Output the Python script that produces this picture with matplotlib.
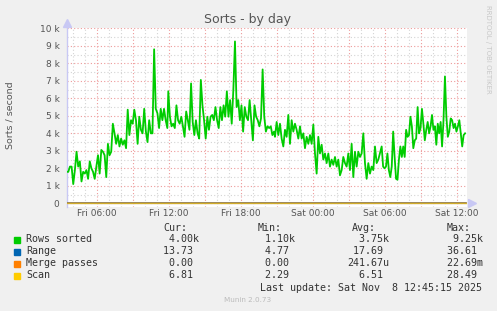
import numpy as np
import matplotlib
matplotlib.use("Agg")
import matplotlib.pyplot as plt
from matplotlib.patches import Rectangle
from matplotlib.ticker import MultipleLocator, FuncFormatter

W, H = 497, 311

# Rows sorted (thousands per second) in four stretches
rows_seg1 = [1.8, 1.8, 2.1, 2.1, 1.1, 1.9, 2.95, 2.1, 2.4, 1.25, 1.8, 1.7, 1.9, 1.4, 2.4, 2.0,
             1.8, 1.4, 2.1, 2.75, 1.7, 3.05, 2.95, 2.75, 1.5, 3.4, 2.75, 2.95, 4.55, 4.0, 3.4,
             3.9, 3.25, 3.7, 3.35, 3.6, 3.15, 5.35, 3.9, 4.75, 4.55, 5.35, 4.75, 3.4, 4.95,
             4.2, 4.0, 5.4, 4.1, 3.5, 4.75, 4.0, 4.0, 8.8, 5.4, 5.15, 4.3, 5.4, 4.75, 5.4,
             4.75, 4.3]
rows_seg2 = [6.4, 4.95, 4.4, 4.55, 4.3, 5.6, 4.75, 4.55, 4.95, 4.4, 3.8, 5.25, 4.75, 4.2,
             6.85, 4.65, 3.9, 4.75, 4.0, 3.7, 7.05, 5.6, 4.75, 3.7, 4.95, 4.2, 4.95, 5.05,
             4.75, 5.5, 4.75, 4.3, 5.5, 4.75, 5.6, 4.95, 6.4, 4.95, 5.9, 4.55, 6.5, 9.25,
             5.5, 5.9, 4.75, 5.6, 4.1, 5.5, 4.95, 4.75, 5.9, 4.75, 3.6, 5.6, 4.95, 4.75, 4.4,
             4.85, 7.65, 4.95, 4.1, 4.4, 4.3, 4.4, 3.9, 4.1]
rows_seg3 = [3.8, 4.65, 3.9, 4.55, 3.7, 3.25, 4.2, 3.8, 5.05, 3.4, 4.75, 4.1, 4.55, 4.2, 3.7,
             4.4, 3.7, 4.0, 3.15, 3.8, 3.4, 3.9, 3.4, 4.5, 2.85, 1.7, 3.8, 2.85, 3.35, 2.5,
             2.85, 2.3, 2.85, 2.1, 2.5, 2.2, 2.65, 2.1, 2.5, 1.6, 1.9, 2.65, 2.3, 2.1, 2.85,
             1.9, 3.4, 1.5, 2.95, 2.1, 2.95, 2.65, 2.85, 4.0, 2.3, 1.4, 2.3, 1.7, 2.1, 1.9,
             3.25, 2.3, 2.5]
rows_seg4 = [3.25, 2.1, 2.0, 2.1, 2.85, 1.9, 1.5, 2.1, 4.1, 2.65, 1.4, 1.35, 2.5, 3.25, 2.65,
             3.25, 2.65, 4.2, 3.8, 3.9, 4.95, 4.4, 3.15, 3.6, 3.7, 5.5, 4.0, 4.3, 5.4, 4.55,
             3.6, 4.2, 4.65, 4.0, 4.4, 5.05, 4.2, 4.4, 3.35, 4.55, 4.0, 4.65, 3.25, 4.75,
             7.25, 4.95, 3.8, 4.1, 4.85, 4.75, 4.3, 4.55, 4.1, 4.4, 4.75, 4.0, 3.25, 3.9, 4.0]
# hours since Fri 00:00 covered by each stretch
seg_hours = [(3.47, 11.86), (11.94, 20.75), (20.83, 29.44), (29.72, 36.67)]

# small series, roughly hourly
small_hours = [3.5, 36.75]
range_vals = [8, 7, 9, 10, 12, 30, 14, 28, 31, 27, 15, 29, 33, 16, 18, 17, 36.6, 20, 19,
              17, 15, 12, 10, 9, 8, 6, 5, 4.8, 30, 18, 15, 16, 14, 13.7]
merge_vals = [0.0] * 34
scan_vals = [5, 4, 6, 7, 6, 8, 7, 9, 8, 7, 6, 8, 28.5, 7, 6, 8, 7, 6, 5, 6, 5, 4, 3,
             2.3, 3, 4, 5, 6, 7, 6, 8, 7, 6, 6.8]

x_ticks = [6, 12, 18, 24, 30, 36]
x_labels = ["Fri 06:00", "Fri 12:00", "Fri 18:00", "Sat 00:00", "Sat 06:00", "Sat 12:00"]

legend_names = ["Rows sorted", "Range", "Merge passes", "Scan"]
legend_colors = ["#00CC00", "#0066B3", "#FF8000", "#FFCC00"]
legend_cur = ["  4.00k", " 13.73", "  0.00", "  6.81"]
legend_min = ["  1.10k", "  4.77", "  0.00", "  2.29"]
legend_avg = ["  3.75k", " 17.69", "241.67u", "  6.51"]
legend_max = ["  9.25k", " 36.61", " 22.69m", " 28.49"]


def fx(x):
    return x / W


def fy(y):
    return 1 - y / H


fig = plt.figure(figsize=(W / 100, H / 100), dpi=100, facecolor='#F0F0F0')
ax = fig.add_axes([fx(67), fy(206.5), 400 / W, 178.2 / H])
ax.set_facecolor('white')
ax.set_xlim(3.5, 36.83)
ax.set_ylim(-180, 10000)

# grid
ax.xaxis.set_major_locator(MultipleLocator(3))
ax.xaxis.set_minor_locator(MultipleLocator(1))
ax.yaxis.set_major_locator(MultipleLocator(1000))
ax.yaxis.set_minor_locator(MultipleLocator(500))
ax.grid(which='minor', color='#D4D4D4', linestyle=(0, (1, 2)), linewidth=0.8)
ax.grid(which='major', color='#EE9A9A', linestyle=(0, (1, 2)), linewidth=0.8)
ax.set_axisbelow(True)

ax.xaxis.set_major_formatter(FuncFormatter(
    lambda v, p: x_labels[x_ticks.index(int(round(v)))] if int(round(v)) in x_ticks else ''))
ax.yaxis.set_major_formatter(FuncFormatter(
    lambda v, p: '0' if v == 0 else '%d k' % int(v / 1000)))
ax.tick_params(which='both', length=0)
ax.tick_params(axis='x', pad=1.5, labelsize=6.5, labelcolor='#555555')
ax.tick_params(axis='y', pad=5.4, labelsize=6.5, labelcolor='#555555')

for s in ['top', 'right', 'bottom']:
    ax.spines[s].set_visible(False)
ax.spines['left'].set_color('#C8C8F4')
ax.spines['left'].set_linewidth(1.0)
ax.axhline(0, color='#C8C8F4', linewidth=1.0, zorder=2)
ax.plot([0], [1.03], marker='^', color='#C8C8F4', markersize=6, transform=ax.transAxes, clip_on=False)
ax.plot([1.012], [180 / 10180], marker='>', color='#C8C8F4', markersize=6, transform=ax.transAxes, clip_on=False)

# series
rows_t = np.concatenate([np.linspace(h0, h1, len(s)) for s, (h0, h1) in
                         zip([rows_seg1, rows_seg2, rows_seg3, rows_seg4], seg_hours)])
rows_v = np.concatenate([rows_seg1, rows_seg2, rows_seg3, rows_seg4]) * 1000
ax.plot(rows_t, rows_v, color=legend_colors[0], linewidth=1.3, zorder=3)

small_t = np.linspace(small_hours[0], small_hours[1], len(range_vals))
ax.step(small_t, range_vals, where='post', color=legend_colors[1], linewidth=1.1, zorder=3)
ax.step(small_t, merge_vals, where='post', color=legend_colors[2], linewidth=1.2, alpha=0.55, zorder=3)
ax.step(small_t, scan_vals, where='post', color=legend_colors[3], linewidth=1.0, alpha=0.6, zorder=3)

# titles
fig.text(fx(248), fy(20), 'Sorts - by day', ha='center', va='center', fontsize=9, color='#555555')
fig.text(fx(10), fy(115), 'Sorts / second', ha='center', va='center', rotation=90,
         fontsize=6.8, color='#555555')
fig.text(fx(488), fy(5), 'RRDTOOL / TOBI OETIKER', ha='center', va='top', rotation=270,
         fontsize=5, color='#C8C8C8')

# legend table
mono = dict(family='DejaVu Sans Mono', fontsize=7.2, color='#333333', va='center')
for hx, htxt in zip([163, 258, 352, 447], ['Cur:', 'Min:', 'Avg:', 'Max:']):
    fig.text(fx(hx), fy(228), htxt, ha='left', **mono)

row_y = [239.5, 251.5, 263.5, 275.5]
for i in range(4):
    fig.patches.append(Rectangle((fx(14), fy(row_y[i] + 3)), 6 / W, 6 / H,
                                 transform=fig.transFigure, color=legend_colors[i]))
    fig.text(fx(26), fy(row_y[i]), legend_names[i], ha='left', **mono)
    fig.text(fx(157), fy(row_y[i]), legend_cur[i], ha='left', **mono)
    fig.text(fx(253), fy(row_y[i]), legend_min[i], ha='left', **mono)
    fig.text(fx(347), fy(row_y[i]), legend_avg[i], ha='left', **mono)
    fig.text(fx(441), fy(row_y[i]), legend_max[i], ha='left', **mono)

fig.text(fx(482), fy(287.7), 'Last update: Sat Nov  8 12:45:15 2025', ha='right', **mono)
fig.text(fx(248), fy(300), 'Munin 2.0.73', ha='center', va='center', fontsize=5.2, color='#BBBBBB')

fig.savefig('out.png', dpi=100, facecolor=fig.get_facecolor())
